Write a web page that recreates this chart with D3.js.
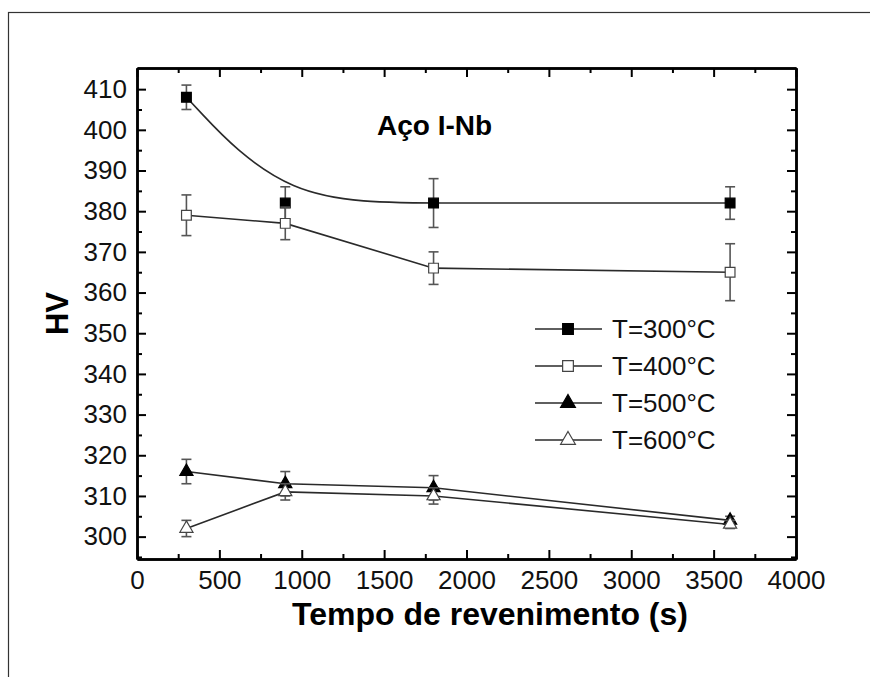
<!DOCTYPE html>
<html>
<head>
<meta charset="utf-8">
<script src="https://cdn.jsdelivr.net/npm/d3@7"></script>
<style>
  body { margin: 0; background: #fff; }
  svg { display: block; font-family: "Liberation Sans", Arial, sans-serif; }
</style>
</head>
<body>
<div id="chart"></div>
<script>
// tempo de revenimento (s)
var times = [300, 900, 1800, 3600];
// dureza HV por temperatura
var hv300 = [408, 382, 382, 382];
var err300 = [3, 4, 6, 4];
var hv400 = [379, 377, 366, 365];
var err400 = [5, 4, 4, 7];
var hv500 = [316, 313, 312, 304];
var err500 = [3, 3, 3, 1];
var hv600 = [302, 311, 310, 303];
var err600 = [2, 2, 2, 1];

var seriesNames = ["T=300°C", "T=400°C", "T=500°C", "T=600°C"];
var xTicks = [0, 500, 1000, 1500, 2000, 2500, 3000, 3500, 4000];
var xMinor = [250, 750, 1250, 1750, 2250, 2750, 3250, 3750];
var yTicks = [300, 310, 320, 330, 340, 350, 360, 370, 380, 390, 400, 410];
var yMinor = [295, 305, 315, 325, 335, 345, 355, 365, 375, 385, 395, 405];

var width = 870, height = 677;
var plotLeft = 137, plotRight = 796, plotTop = 68, plotBottom = 559;

var svg = d3.select("#chart").append("svg")
    .attr("width", width)
    .attr("height", height);

// moldura externa
svg.append("rect")
    .attr("x", 8.5).attr("y", 12.5)
    .attr("width", 900).attr("height", 700)
    .style("fill", "none").style("stroke", "#333").style("stroke-width", 1.2);

var x = d3.scaleLinear().domain([0, 4000]).range([plotLeft, plotRight]);
var y = d3.scaleLinear().domain([294.5, 415.2]).range([plotBottom, plotTop]);

function drawAxis(axis, tx, ty, size, labels) {
    var g = svg.append("g")
        .attr("transform", "translate(" + tx + "," + ty + ")")
        .call(axis.tickSize(size).tickSizeOuter(0).tickFormat(labels ? d3.format("d") : ""));
    g.select(".domain").style("stroke", "#000").style("stroke-width", 2.5);
    g.selectAll(".tick line").style("stroke", "#000").style("stroke-width", 2);
    return g;
}

// eixos (ticks para dentro)
var xb = drawAxis(d3.axisBottom(x).tickValues(xTicks).tickPadding(12), 0, plotBottom, -9, true);
drawAxis(d3.axisBottom(x).tickValues(xMinor), 0, plotBottom, -5, false);
drawAxis(d3.axisTop(x).tickValues(xTicks), 0, plotTop, -9, false);
drawAxis(d3.axisTop(x).tickValues(xMinor), 0, plotTop, -5, false);
var yl = drawAxis(d3.axisLeft(y).tickValues(yTicks).tickPadding(10), plotLeft, 0, -9, true);
drawAxis(d3.axisLeft(y).tickValues(yMinor), plotLeft, 0, -5, false);
drawAxis(d3.axisRight(y).tickValues(yTicks), plotRight, 0, -9, false);
drawAxis(d3.axisRight(y).tickValues(yMinor), plotRight, 0, -5, false);

xb.selectAll(".tick text").style("font-size", "26px").style("fill", "#111")
    .attr("dy", "0.71em");
yl.selectAll(".tick text").style("font-size", "26px").style("fill", "#111");

// títulos
svg.append("text")
    .attr("x", 490).attr("y", 625)
    .attr("text-anchor", "middle")
    .style("font-size", "32px").style("font-weight", "bold")
    .text("Tempo de revenimento (s)");

svg.append("text")
    .attr("transform", "translate(68," + ((plotTop + plotBottom) / 2) + ") rotate(-90)")
    .attr("text-anchor", "middle")
    .style("font-size", "31px").style("font-weight", "bold")
    .text("HV");

svg.append("text")
    .attr("x", 377).attr("y", 135)
    .style("font-size", "28px").style("font-weight", "bold")
    .text("Aço I-Nb");

var series = [
    { name: seriesNames[0], values: hv300, errs: err300, shape: d3.symbolSquare, size: 95, fill: "#000", curve: d3.curveBasis },
    { name: seriesNames[1], values: hv400, errs: err400, shape: d3.symbolSquare, size: 95, fill: "#fff", curve: d3.curveLinear },
    { name: seriesNames[2], values: hv500, errs: err500, shape: d3.symbolTriangle, size: 75, fill: "#000", curve: d3.curveLinear },
    { name: seriesNames[3], values: hv600, errs: err600, shape: d3.symbolTriangle, size: 75, fill: "#fff", curve: d3.curveLinear }
];

series.forEach(function(s) {
    var pts = times.map(function(t, i) { return { t: t, v: s.values[i], e: s.errs[i] }; });

    var line = d3.line()
        .x(function(d) { return x(d.t); })
        .y(function(d) { return y(d.v); })
        .curve(s.curve);

    svg.append("path")
        .datum(pts)
        .attr("d", line)
        .style("fill", "none")
        .style("stroke", "#2a2a2a")
        .style("stroke-width", 1.6);

    // barras de erro
    var eb = svg.append("g").selectAll("g")
        .data(pts)
        .enter().append("g")
        .style("stroke", "#555")
        .style("stroke-width", 1.6);
    eb.append("line")
        .attr("x1", function(d) { return x(d.t); })
        .attr("x2", function(d) { return x(d.t); })
        .attr("y1", function(d) { return y(d.v - d.e); })
        .attr("y2", function(d) { return y(d.v + d.e); });
    eb.append("line")
        .attr("x1", function(d) { return x(d.t) - 5; })
        .attr("x2", function(d) { return x(d.t) + 5; })
        .attr("y1", function(d) { return y(d.v + d.e); })
        .attr("y2", function(d) { return y(d.v + d.e); });
    eb.append("line")
        .attr("x1", function(d) { return x(d.t) - 5; })
        .attr("x2", function(d) { return x(d.t) + 5; })
        .attr("y1", function(d) { return y(d.v - d.e); })
        .attr("y2", function(d) { return y(d.v - d.e); });

    svg.append("g").selectAll("path")
        .data(pts)
        .enter().append("path")
        .attr("transform", function(d) { return "translate(" + x(d.t) + "," + y(d.v) + ")"; })
        .attr("d", d3.symbol().type(s.shape).size(s.size))
        .style("fill", s.fill)
        .style("stroke", s.fill === "#000" ? "#000" : "#444")
        .style("stroke-width", 1.2);
});

// legenda
var legend = svg.append("g").selectAll("g")
    .data(series)
    .enter().append("g")
    .attr("transform", function(d, i) { return "translate(0," + (329 + i * 37) + ")"; });

legend.append("line")
    .attr("x1", 535).attr("x2", 602)
    .style("stroke", "#2a2a2a").style("stroke-width", 1.6);
legend.append("path")
    .attr("transform", "translate(568,0)")
    .attr("d", function(d) { return d3.symbol().type(d.shape).size(d.size + 20)(); })
    .style("fill", function(d) { return d.fill; })
    .style("stroke", function(d) { return d.fill === "#000" ? "#000" : "#444"; })
    .style("stroke-width", 1.2);
legend.append("text")
    .attr("x", 612).attr("y", 9)
    .style("font-size", "26px").style("fill", "#111")
    .text(function(d) { return d.name; });
</script>
</body>
</html>
